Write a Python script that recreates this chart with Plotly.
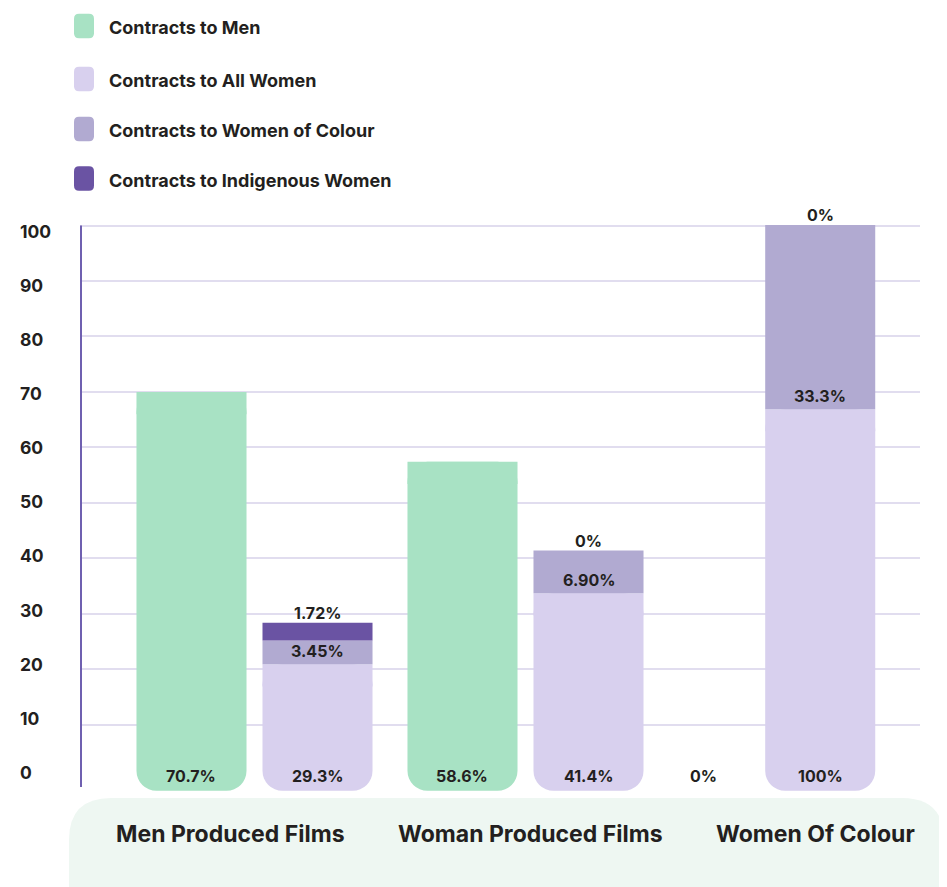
import plotly.graph_objects as go

groups = ['Men Produced Films', 'Woman Produced Films', 'Women Of Colour']
series_names = ['Contracts to Men', 'Contracts to All Women',
                'Contracts to Women of Colour', 'Contracts to Indigenous Women']

# segment heights as drawn in the picture
men = [70.0, 57.4, 0]
all_women = [20.9, 33.7, 66.9]
women_colour = [4.3, 7.7, 33.2]
indigenous = [3.2, 0, 0]

# printed labels
men_text = ['70.7%', '58.6%', '0%']
all_women_text = ['29.3%', '41.4%', '100%']
colour_text = ['3.45%', '6.90%', '33.3%']
indig_text = ['1.72%', '0%', '0%']

y_ticks = [0, 10, 20, 30, 40, 50, 60, 70, 80, 90, 100]

colors = ['#a8e2c4', '#d8d0ee', '#b1aad1', '#6a53a3']
ink = '#231f20'
FONT = 'Inter'

# page has an 8px body margin, so the figure starts at (8, 8) on screen
OFF = 8
W, H = 947 - OFF, 887 - OFF
PL, PR, PT, PB = 80, 920, 220, 793      # plot area on screen
group_x = [0, 1, 1.855]
cat_label_x = [-0.09, 1.02, 2.07]
off = 0.2325
bw = 0.406
floor = -1.9
cap = 4


def px(x):
    return (x - PL) / (PR - PL)


def py(y):
    return (PB - y) / (PB - PT)


def rrect(x0, y0, x1, y1, r):
    # rounded rectangle in screen pixels -> paper path
    a, b, c, d = px(x0), px(x1), py(y0), py(y1)
    rx, ry = r / (PR - PL), r / (PB - PT)
    return (f'M {a+rx} {c} L {b-rx} {c} Q {b} {c} {b} {c-ry} '
            f'L {b} {d+ry} Q {b} {d} {b-rx} {d} L {a+rx} {d} '
            f'Q {a} {d} {a} {d+ry} L {a} {c-ry} Q {a} {c} {a+rx} {c} Z')


fig = go.Figure()

men_x = [g - off for g in group_x]
wom_x = [g + off for g in group_x]

# rounded bottom segments, then a square cap so only the bottom stays round
fig.add_trace(go.Bar(x=men_x, base=[floor] * 3,
                     y=[m - floor if m > 0 else None for m in men],
                     width=bw, marker=dict(color=colors[0], cornerradius=20, line_width=0)))
fig.add_trace(go.Bar(x=men_x, base=[m - cap for m in men],
                     y=[cap if m > 0 else None for m in men],
                     width=bw, marker=dict(color=colors[0], line_width=0)))
fig.add_trace(go.Bar(x=wom_x, base=[floor] * 3,
                     y=[a - floor for a in all_women],
                     width=bw, marker=dict(color=colors[1], cornerradius=20, line_width=0)))
fig.add_trace(go.Bar(x=wom_x, base=[a - cap for a in all_women], y=[cap] * 3,
                     width=bw, marker=dict(color=colors[1], line_width=0)))
fig.add_trace(go.Bar(x=wom_x, base=all_women, y=women_colour,
                     width=bw, marker=dict(color=colors[2], line_width=0)))
fig.add_trace(go.Bar(x=wom_x, base=[a + w for a, w in zip(all_women, women_colour)],
                     y=[v if v > 0 else None for v in indigenous],
                     width=bw, marker=dict(color=colors[3], line_width=0)))

ann = []
lab = dict(family=FONT, size=16, color=ink, weight=700)
for i in range(3):
    ann.append(dict(x=men_x[i] + (0.035 if men[i] == 0 else 0), y=0, yshift=4.5,
                    text=men_text[i], showarrow=False, font=lab))
    ann.append(dict(x=wom_x[i], y=0, yshift=4.5, text=all_women_text[i], showarrow=False, font=lab))
    ann.append(dict(x=wom_x[i], y=all_women[i], yshift=13, text=colour_text[i],
                    showarrow=False, font=lab))
    top = all_women[i] + women_colour[i] + indigenous[i]
    ann.append(dict(x=wom_x[i], y=top, yshift=10, text=indig_text[i], showarrow=False, font=lab))
    ann.append(dict(x=cat_label_x[i], xref='x', y=py(834), yref='paper', xanchor='center',
                    yanchor='middle', text=groups[i], showarrow=False,
                    font=dict(family=FONT, size=23, color=ink, weight=700)))

for v in y_ticks:
    ann.append(dict(x=px(18), xref='paper', xanchor='left', y=v, yref='y', yanchor='middle',
                    yshift=7.8 - 0.135 * v, text=str(v), showarrow=False,
                    font=dict(family=FONT, size=17.5, color=ink, weight=700)))

shapes = [
    dict(type='path', xref='paper', yref='paper', path=rrect(69, 798, 944, 940, 42),
         fillcolor='#eef7f2', line_width=0, layer='below'),
    dict(type='line', xref='paper', yref='y', x0=px(81), x1=px(81), y0=100, y1=-1.2,
         line=dict(color='#6f60b0', width=2)),
]

leg_y = [26, 79, 129, 178.5]
for i, name in enumerate(series_names):
    shapes.append(dict(type='path', xref='paper', yref='paper',
                       path=rrect(74, leg_y[i] - 12.3, 94, leg_y[i] + 12.3, 5),
                       fillcolor=colors[i], line_width=0))
    ann.append(dict(x=px(107), xref='paper', xanchor='left', y=py(leg_y[i] + 1.5), yref='paper',
                    yanchor='middle', text=name, showarrow=False,
                    font=dict(family=FONT, size=18, color=ink, weight=700)))

x_unit = 271
fig.update_layout(
    width=W, height=H,
    margin=dict(l=PL - OFF, r=W - (PR - OFF), t=PT - OFF, b=H - (PB - OFF)),
    barmode='overlay',
    showlegend=False,
    plot_bgcolor='white', paper_bgcolor='white',
    xaxis=dict(range=[(PL - 254.5) / x_unit, (PR - 254.5) / x_unit], visible=False, fixedrange=True),
    yaxis=dict(range=[-2.3, 101], tickvals=y_ticks[1:], showticklabels=False,
               showgrid=True, gridcolor='#e1ddef', gridwidth=2, zeroline=False, fixedrange=True),
    annotations=ann,
    shapes=shapes,
)

fig.write_html('out.html')
